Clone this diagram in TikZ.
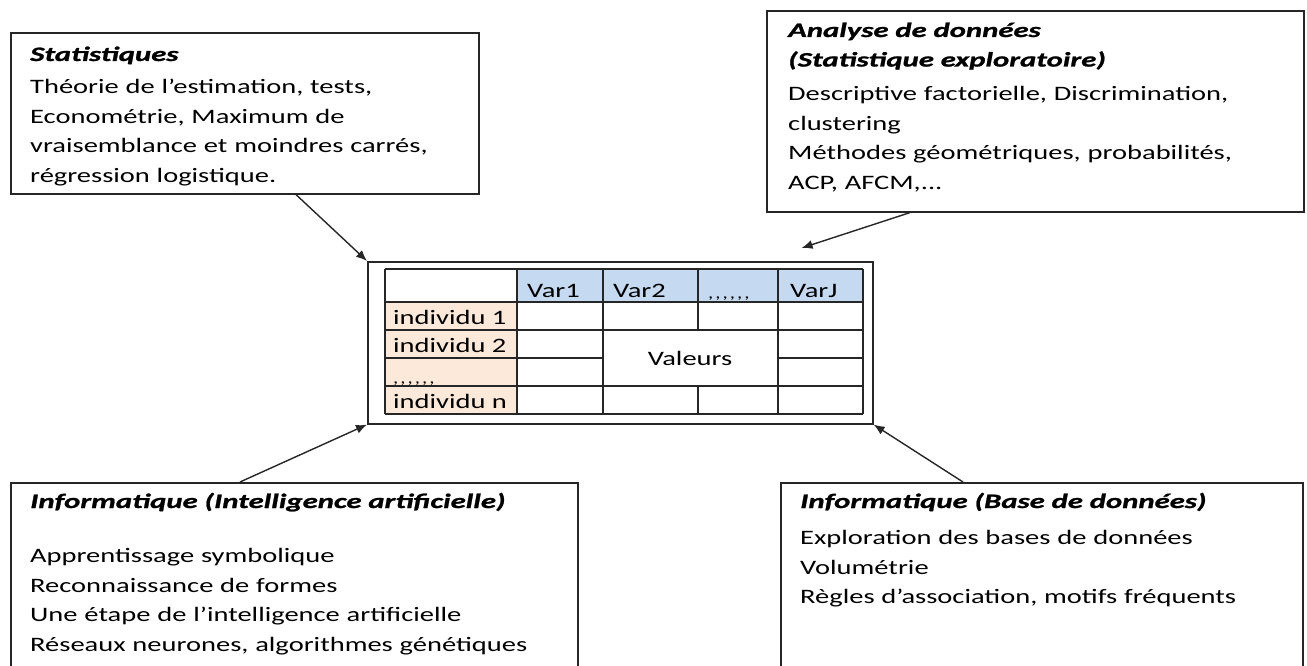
\documentclass[tikz,border=0pt]{standalone}
\usepackage{fontspec}
\setmainfont{Carlito}[FakeStretch = 1.39, BoldItalicFeatures = {FakeStretch = 1.5, FakeBold = 1.2}]
\usetikzlibrary{arrows.meta}
\definecolor{headblue}{RGB}{197,217,241}
\definecolor{rowpeach}{RGB}{253,233,217}
\newcommand\commarow{,\kern2pt,\kern2pt,\kern2pt,\kern2pt,\kern2pt,}

\begin{document}
\begin{tikzpicture}[x = 1pt, y = -1pt,
		box/.style = {draw = black!85, line width = 1.6pt, anchor = north west, inner sep = 0pt},
		boxtext/.style = {anchor = base west, align = left, inner sep = 0pt, text width = 520pt, font = \fontsize{20.5}{29.5}\selectfont},
		link/.style = {draw = black!85, line width = 1.4pt, -{Latex[length = 11pt, width = 9pt]}},
		grid/.style = {draw = black!85, line width = 1.3pt},
		cell/.style = {anchor = base west, inner sep = 0pt, font = \fontsize{20.5}{24}\selectfont}]
		\useasboundingbox (0,0) rectangle (1307,666);
		
		% boxes
		\node[box, minimum width = 468pt, minimum height = 161pt] (stat) at (10,32) {};
		\node[box, minimum width = 537pt, minimum height = 201pt] (ad) at (766,10) {};
		\node[box, minimum width = 567pt, minimum height = 220pt] (ia) at (10,482) {};
		\node[box, minimum width = 522pt, minimum height = 220pt] (bd) at (780,482) {};
		\node[box, minimum width = 505pt, minimum height = 162pt] (frame) at (367,261) {};
		
		\node[boxtext] (stattext) at (30,61) {\textbf{\textit{Statistiques}}\\[3.5pt]
			Théorie de l’estimation, tests,\\
			Econométrie, Maximum de\\
			vraisemblance et moindres carrés,\\
			régression logistique.};
		\node[boxtext] (adtext) at (788,37) {\textbf{\textit{Analyse de données}}\\
			\textbf{\textit{(Statistique exploratoire)}}\\[5pt]
			Descriptive factorielle, Discrimination,\\
			clustering\\
			Méthodes géométriques, probabilités,\\
			ACP, AFCM,...};
		\node[boxtext] (iatext) at (30,508) {\textbf{\textit{Informatique (Intelligence artificielle)}}\\[25pt]
			Apprentissage symbolique\\
			Reconnaissance de formes\\
			Une étape de l’intelligence artificielle\\
			Réseaux neurones, algorithmes génétiques};
		\node[boxtext] (bdtext) at (800,508) {\textbf{\textit{Informatique (Base de données)}}\\[7pt]
			Exploration des bases de données\\
			Volumétrie\\
			Règles d’association, motifs fréquents};
		
		% table
		\fill[headblue] (517,269) rectangle (863,302);
		\fill[rowpeach] (385,302) rectangle (517,414);
		\foreach \y in {269,302,330,386,414}
			\draw[grid] (385,\y) -- (863,\y);
		\draw[grid] (385,358) -- (603,358) (778,358) -- (863,358);
		\foreach \x in {385,517,603,778,863}
			\draw[grid] (\x,269) -- (\x,414);
		\draw[grid] (698,269) -- (698,330) (698,386) -- (698,414);
		
		\node[cell] (var1) at (527,297) {Var1};
		\node[cell] (var2) at (613,297) {Var2};
		\node[cell, font = \fontsize{15}{18}\selectfont] (vardots) at (708,298) {\commarow};
		\node[cell] (varj) at (790,297) {VarJ};
		\node[cell] (ind1) at (393,324) {individu 1};
		\node[cell] (ind2) at (393,352) {individu 2};
		\node[cell, font = \fontsize{15}{18}\selectfont] (inddots) at (393,383) {\commarow};
		\node[cell] (indn) at (393,408) {individu n};
		\node[cell, anchor = base] (val) at (690,365) {Valeurs};
		
		% arrows
		\draw[link] ([xshift = 286pt]stat.south west) -- (frame.north west);
		\draw[link] ([xshift = 144pt]ad.south west) -- ([xshift = -72pt, yshift = 13pt]frame.north east);
		\draw[link] ([xshift = 230pt]ia.north west) -- (frame.south west);
		\draw[link] ([xshift = 183pt]bd.north west) -- (frame.south east);
	\end{tikzpicture}
\end{document}
